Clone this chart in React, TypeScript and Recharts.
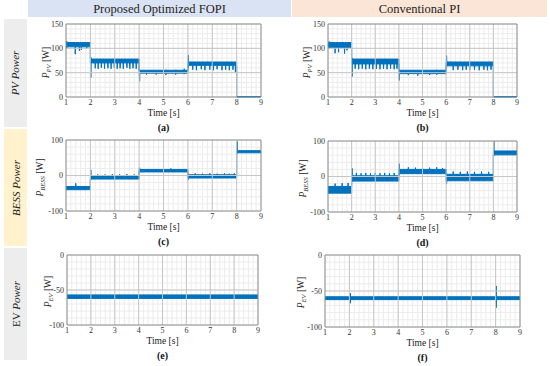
import React from 'react';
import { ComposedChart, Area, XAxis, YAxis, CartesianGrid, ReferenceLine } from 'recharts';

const BLUE = '#0072BD';
const SERIF = '"Liberation Serif", "DejaVu Serif", serif';

// time axis (s)
const xMajor = [1, 2, 3, 4, 5, 6, 7, 8, 9];

// y tick labels per quantity
const pvTicks = [0, 50, 100, 150];
const bessTicks = [-100, 0, 100];
const evTicks = [-100, -50, 0];

// each step: [t start, t end, band low, band high] in W
// each event: [t, low, high] short spike / transient
const pvFopiSteps = [
  [1, 2, 103, 112],
  [2, 4, 70, 78],
  [4, 6, 49, 55],
  [6, 8, 65, 72],
  [8, 9, 0, 1],
];
const pvFopiEvents = [
  [1.03, 100, 115], [1.38, 88, 112], [1.55, 95, 112], [1.63, 97, 112], [1.85, 100, 112],
  [2.02, 40, 82], [2.2, 59, 78], [2.32, 58, 78], [2.45, 60, 78], [2.58, 58, 78], [2.72, 59, 78],
  [2.85, 58, 78], [2.98, 60, 78], [3.1, 58, 78], [3.22, 59, 78], [3.35, 58, 78], [3.5, 60, 78],
  [3.62, 58, 78], [3.75, 59, 78], [3.88, 58, 78],
  [4.02, 32, 56], [4.3, 46, 55], [4.7, 46, 55], [5.1, 45, 56], [5.5, 46, 56], [5.85, 47, 58],
  [6.02, 60, 86], [6.2, 56, 72], [6.35, 55, 72], [6.55, 57, 72], [6.7, 55, 72], [6.9, 56, 72],
  [7.05, 55, 72], [7.2, 57, 72], [7.4, 55, 72], [7.55, 56, 72], [7.7, 55, 72], [7.85, 56, 72],
  [7.95, 50, 72],
];

const pvPiSteps = [
  [1, 2, 102, 112],
  [2, 4, 68, 78],
  [4, 6, 48, 55],
  [6, 8, 64, 72],
  [8, 9, 0, 1],
];
const pvPiEvents = [
  [1.05, 100, 114], [1.3, 90, 112], [1.45, 92, 112], [1.7, 89, 112], [1.8, 96, 112],
  [2.02, 42, 80], [2.15, 58, 78], [2.3, 57, 78], [2.45, 58, 78], [2.6, 57, 78], [2.75, 58, 78],
  [2.9, 57, 78], [3.05, 58, 78], [3.2, 57, 78], [3.35, 58, 78], [3.5, 57, 78], [3.65, 58, 78],
  [3.8, 57, 78], [3.92, 58, 78],
  [4.02, 34, 56], [4.4, 45, 55], [4.8, 44, 55], [5.3, 45, 55], [5.6, 46, 56],
  [6.02, 62, 85], [6.3, 55, 72], [6.5, 56, 72], [6.7, 55, 72], [6.85, 56, 72], [7.0, 55, 72],
  [7.2, 56, 72], [7.4, 55, 72], [7.6, 56, 72], [7.75, 55, 72], [7.9, 56, 72],
];

const bessFopiSteps = [
  [1, 2, -40, -31],
  [2, 4, -10, -1],
  [4, 6, 10, 17],
  [6, 8, -7, 2],
  [8, 9, 64, 70],
];
const bessFopiEvents = [
  [1.4, -40, -22],
  [2.02, -12, 16], [2.3, -10, 3], [2.6, -10, 3], [2.9, -10, 4], [3.2, -10, 3], [3.5, -10, 4], [3.8, -10, 3],
  [4.02, 8, 22], [5.3, 10, 20],
  [6.02, -12, 3], [6.3, -7, 6], [6.6, -7, 5], [6.9, -7, 6], [7.2, -7, 5], [7.5, -7, 6], [7.7, -7, 5], [7.9, -7, 6],
  [8.02, 62, 96],
];

const bessPiSteps = [
  [1, 2, -47, -28],
  [2, 4, -13, 2],
  [4, 6, 8, 20],
  [6, 8, -12, 6],
  [8, 9, 61, 72],
];
const bessPiEvents = [
  [1.3, -47, -20], [1.6, -47, -19], [1.85, -47, -18],
  [2.02, -15, 23], [2.2, -13, 10], [2.4, -13, 9], [2.6, -13, 10], [2.8, -13, 9], [3.0, -13, 10],
  [3.2, -13, 9], [3.4, -13, 10], [3.6, -13, 9], [3.8, -13, 10],
  [4.02, 5, 36], [4.4, 8, 26], [4.7, 8, 25], [5.0, 8, 26], [5.3, 8, 25], [5.6, 8, 26], [5.85, 8, 24],
  [6.02, -20, 10], [6.3, -12, 14], [6.6, -12, 13], [6.9, -12, 14], [7.2, -12, 13], [7.5, -12, 14], [7.8, -12, 13],
  [8.02, 58, 100],
];

const evFopiSteps = [[1, 9, -62, -57]];
const evFopiEvents = [];

const evPiSteps = [[1, 9, -62, -58]];
const evPiEvents = [[2.04, -67, -53], [8.03, -73, -43]];

function buildBand(steps, events) {
  const pts = [];
  steps.forEach(([t0, t1, lo, hi]) => {
    pts.push({ t: t0, band: [lo, hi] });
    events
      .filter((e) => e[0] > t0 && e[0] < t1)
      .forEach(([t, elo, ehi]) => {
        pts.push({ t: t - 0.01, band: [lo, hi] });
        pts.push({ t, band: [Math.min(lo, elo), Math.max(hi, ehi)] });
        pts.push({ t: t + 0.01, band: [lo, hi] });
      });
    pts.push({ t: t1, band: [lo, hi] });
  });
  return pts;
}

function range(a, b, step) {
  const out = [];
  for (let v = a; v <= b + 1e-9; v += step) out.push(Math.round(v * 1000) / 1000);
  return out;
}

const tickStyle = { fontSize: 8, fill: '#333', fontFamily: SERIF };

function Panel({ x, y, w, h, steps, events, yMajor, yStep, sym, yLabelDx, letter }) {
  const data = buildBand(steps, events);
  const yMin = yMajor[0];
  const yMax = yMajor[yMajor.length - 1];
  const xMinor = range(1, 9, 0.2);
  const yMinor = range(yMin, yMax, yStep);
  const padL = 30;
  const padT = 5;
  const padR = 5;
  const xH = 12;
  return (
    <>
      <div style={{ position: 'absolute', left: x - padL, top: y - padT }}>
        <ComposedChart
          width={padL + w + padR}
          height={padT + h + xH}
          data={data}
          margin={{ top: padT, right: padR, bottom: 0, left: 0 }}
        >
          <CartesianGrid stroke="#ececec" />
          <XAxis
            dataKey="t"
            type="number"
            domain={[1, 9]}
            ticks={xMinor}
            interval={0}
            tickFormatter={(v) => (Number.isInteger(v) ? String(v) : '')}
            tick={tickStyle}
            tickSize={0}
            tickMargin={2}
            axisLine={false}
            height={xH}
          />
          <YAxis
            type="number"
            domain={[yMin, yMax]}
            ticks={yMinor}
            interval={0}
            tickFormatter={(v) => (yMajor.includes(v) ? String(v) : '')}
            tick={tickStyle}
            tickSize={0}
            tickMargin={3}
            axisLine={false}
            width={padL}
          />
          {xMajor.slice(1, -1).map((v) => (
            <ReferenceLine key={'mx' + v} x={v} stroke="#c6c6c6" />
          ))}
          {yMajor.slice(1, -1).map((v) => (
            <ReferenceLine key={'my' + v} y={v} stroke="#c6c6c6" />
          ))}
          <Area
            dataKey="band"
            type="linear"
            stroke={BLUE}
            strokeWidth={1}
            fill={BLUE}
            fillOpacity={1}
            dot={false}
            activeDot={false}
            isAnimationActive={false}
          />
          <ReferenceLine x={1} stroke="#8c8c8c" />
          <ReferenceLine x={9} stroke="#8c8c8c" />
          <ReferenceLine y={yMin} stroke="#8c8c8c" />
          <ReferenceLine y={yMax} stroke="#8c8c8c" />
        </ComposedChart>
      </div>
      <div
        style={{
          position: 'absolute',
          left: x - yLabelDx - 40,
          top: y + h / 2 - 6,
          width: 80,
          textAlign: 'center',
          transform: 'rotate(-90deg)',
          fontSize: 9.5,
          lineHeight: '12px',
          color: '#222',
          whiteSpace: 'nowrap',
        }}
      >
        <i>P</i>
        <sub style={{ fontSize: 6.5, fontStyle: 'italic', verticalAlign: '-2px' }}>{sym}</sub> [W]
      </div>
      <div
        style={{
          position: 'absolute',
          left: x,
          width: w,
          top: y + h + 11,
          textAlign: 'center',
          fontSize: 9.5,
          lineHeight: '11px',
          color: '#222',
        }}
      >
        Time [s]
      </div>
      <div
        style={{
          position: 'absolute',
          left: x,
          width: w,
          top: y + h + 25,
          textAlign: 'center',
          fontSize: 10,
          lineHeight: '12px',
          fontWeight: 'bold',
          color: '#111',
        }}
      >
        ({letter})
      </div>
    </>
  );
}

function SideLabel({ top, height, bg, children }) {
  return (
    <div
      style={{
        position: 'absolute',
        left: 4,
        top,
        width: 23,
        height,
        background: bg,
        display: 'flex',
        alignItems: 'center',
        justifyContent: 'center',
      }}
    >
      <div style={{ transform: 'rotate(-90deg)', whiteSpace: 'nowrap', fontSize: 11, color: '#222' }}>
        {children}
      </div>
    </div>
  );
}

export default function App() {
  return (
    <div
      style={{
        position: 'absolute',
        left: 0,
        top: 0,
        width: 550,
        height: 366,
        background: '#fff',
        fontFamily: SERIF,
        overflow: 'hidden',
      }}
    >
      <div
        style={{
          position: 'absolute', left: 28, top: 0, width: 263, height: 17, background: '#dae3f3',
          textAlign: 'center', fontSize: 12.5, lineHeight: '18px', color: '#222',
        }}
      >
        Proposed Optimized FOPI
      </div>
      <div
        style={{
          position: 'absolute', left: 292, top: 0, width: 255, height: 17, background: '#fbe5d6',
          textAlign: 'center', fontSize: 12.5, lineHeight: '18px', color: '#222',
        }}
      >
        Conventional PI
      </div>

      <SideLabel top={19} height={108} bg="#ededed">
        <i>PV Power</i>
      </SideLabel>
      <SideLabel top={129} height={117} bg="#fff2cc">
        <i>BESS Power</i>
      </SideLabel>
      <SideLabel top={248} height={112} bg="#ededed">
        EV <i>Power</i>
      </SideLabel>

      <Panel x={66} y={24} w={195} h={73} steps={pvFopiSteps} events={pvFopiEvents}
        yMajor={pvTicks} yStep={10} sym="PV" yLabelDx={19} letter="a" />
      <Panel x={328} y={24} w={189} h={73} steps={pvPiSteps} events={pvPiEvents}
        yMajor={pvTicks} yStep={10} sym="PV" yLabelDx={20} letter="b" />
      <Panel x={66} y={140} w={195} h={71} steps={bessFopiSteps} events={bessFopiEvents}
        yMajor={bessTicks} yStep={20} sym="BESS" yLabelDx={25} letter="c" />
      <Panel x={328} y={141} w={189} h={71} steps={bessPiSteps} events={bessPiEvents}
        yMajor={bessTicks} yStep={20} sym="BESS" yLabelDx={24} letter="d" />
      <Panel x={67} y={255} w={191} h={70} steps={evFopiSteps} events={evFopiEvents}
        yMajor={evTicks} yStep={10} sym="EV" yLabelDx={18} letter="e" />
      <Panel x={325} y={255} w={195} h={72} steps={evPiSteps} events={evPiEvents}
        yMajor={evTicks} yStep={10} sym="EV" yLabelDx={23} letter="f" />
    </div>
  );
}
